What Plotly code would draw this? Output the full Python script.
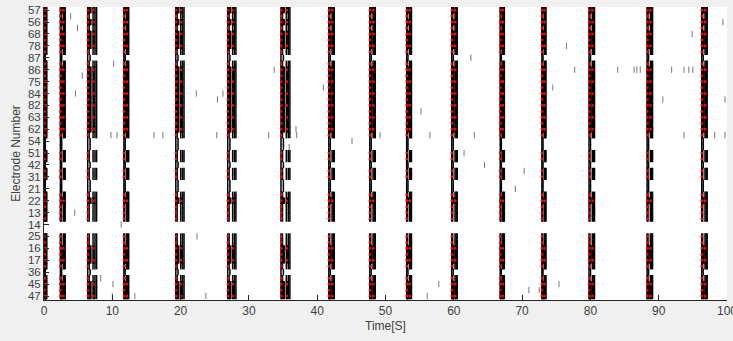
import plotly.graph_objects as go

# Electrode labels shown on the y axis (every second row is labelled)
ELECTRODE_LABELS = ["57", "56", "68", "78", "87", "86", "75", "84", "82", "63", "62", "54",
                    "51", "42", "31", "21", "22", "13", "14", "25", "16", "17", "36", "45", "47"]
N_ROWS = 49

# Activity level of each row (0 = silent, 3 = dense bursting)
ROW_LEVEL = [3, 2, 3, 2, 3, 3, 3, 2, 1, 2, 3, 3, 3, 3, 3, 3, 3, 3, 3, 3, 3, 2, 1, 1, 2,
             2, 1, 2, 2, 1, 1, 2, 3, 2, 2, 2, 0, 0, 2, 2, 3, 3, 3, 2, 1, 2, 3, 3, 3]

# Network bursts: start time [s] and duration [s]
BURST_T = [0.1, 2.4, 6.4, 11.7, 19.3, 26.9, 34.7, 41.7, 47.7, 53.1, 59.7, 66.8, 72.9, 79.8, 88.3, 96.3]
BURST_DUR = [0.3, 0.7, 1.3, 0.7, 1.2, 1.2, 1.3, 0.8, 0.8, 0.7, 0.8, 0.6, 0.6, 0.8, 0.8, 0.8]

# Spike positions within a burst (fraction of burst duration)
SPIKE_FRAC = [0.0, 0.08, 0.17, 0.27, 0.36, 0.6, 0.7, 0.82, 1.0]
LEVEL_SPIKES = {0: [], 1: [0, 3], 2: [0, 2, 5, 7, 8], 3: list(range(9))}
RED_FRAC = [0.03, 0.64]

# Isolated spikes outside bursts (row, time)
ISO_ROW = [1, 3, 11, 14, 9, 21, 21, 21, 21, 14, 34, 36, 38, 45, 46, 48, 48, 48, 10, 15, 14,
           21, 21, 21, 13, 21, 20, 23, 6, 10, 13, 10, 10, 10, 10, 10, 10, 10, 10, 4, 2, 15,
           15, 21, 21, 21, 46, 48, 47, 47, 46, 22, 21, 21, 26, 27, 24, 30, 8, 17]
ISO_T = [3.9, 4.9, 5.6, 4.6, 10.2, 9.8, 10.7, 16.1, 17.4, 22.3, 4.5, 11.3, 22.4, 8.3, 10.1,
         10.0, 13.3, 23.7, 33.7, 25.4, 26.2, 25.3, 32.9, 37.0, 40.9, 49.2, 36.9, 35.9, 76.5,
         77.7, 74.5, 84.0, 86.4, 86.8, 87.3, 91.9, 93.7, 94.4, 95.0, 94.9, 99.4, 90.6, 99.7,
         93.7, 98.2, 99.7, 57.8, 56.1, 71.0, 72.5, 75.4, 45.1, 56.5, 63.0, 64.5, 70.3, 61.5,
         69.0, 62.5, 55.2]

spk_x, spk_y, red_x, red_y = [], [], [], []
for r in range(N_ROWS):
    lvl = ROW_LEVEL[r]
    for t0, d in zip(BURST_T, BURST_DUR):
        for i in LEVEL_SPIKES[lvl]:
            spk_x.append(t0 + SPIKE_FRAC[i] * d)
            spk_y.append(r)
        if lvl >= 2:
            red_x.append(t0 + RED_FRAC[0] * d)
            red_y.append(r)
        if lvl >= 3 and r % 2 == 0:
            red_x.append(t0 + RED_FRAC[1] * d)
            red_y.append(r)

fig = go.Figure()
fig.add_trace(go.Scatter(
    x=spk_x, y=spk_y, mode="markers", hoverinfo="skip",
    marker=dict(symbol="line-ns", size=4.5, line=dict(color="black", width=1.5))))
fig.add_trace(go.Scatter(
    x=ISO_T, y=ISO_ROW, mode="markers", hoverinfo="skip",
    marker=dict(symbol="line-ns", size=4.5, line=dict(color="#777777", width=1))))
fig.add_trace(go.Scatter(
    x=red_x, y=red_y, mode="markers", hoverinfo="skip",
    marker=dict(symbol="square", size=2.5, color="red", line=dict(width=0))))

fig.update_layout(
    width=733, height=341, showlegend=False,
    paper_bgcolor="#f0f0f0", plot_bgcolor="white",
    margin=dict(l=44, r=6, t=7, b=41, autoexpand=False),
    font=dict(family="Liberation Sans, Arial, sans-serif", size=12, color="#404040"),
    xaxis=dict(range=[0, 100], tickvals=list(range(0, 101, 10)), ticks="inside", ticklen=5,
               tickcolor="#262626", showline=True, linecolor="#262626", linewidth=1,
               mirror=False, showgrid=False, zeroline=False, ticklabeloverflow="allow",
               automargin=False,
               title=dict(text="Time[S]", standoff=4, font=dict(size=12))),
    yaxis=dict(range=[48.67, -0.53], tickvals=list(range(0, N_ROWS, 2)),
               ticktext=ELECTRODE_LABELS, ticks="inside", ticklen=5, tickcolor="#262626",
               tickfont=dict(size=11.5), automargin=False,
               showline=True, linecolor="#262626", linewidth=1, mirror=False,
               showgrid=False, zeroline=False,
               title=dict(text="Electrode Number", standoff=4, font=dict(size=12))),
)

fig.write_html("out.html")
